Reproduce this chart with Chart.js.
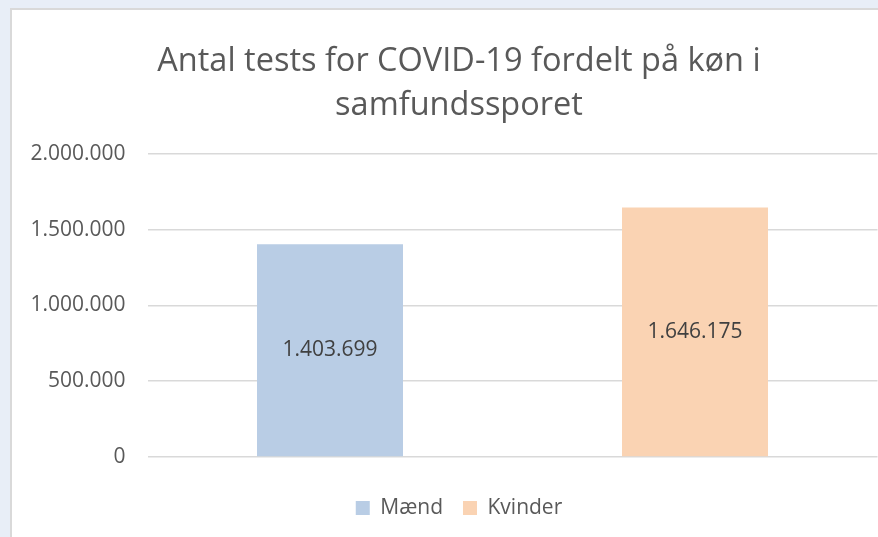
<!DOCTYPE html>
<html>
<head>
<meta charset="utf-8">
<script src="https://cdn.jsdelivr.net/npm/chart.js@4.4.1/dist/chart.umd.min.js"></script>
<style>
  html, body { margin: 0; padding: 0; }
  body { width: 878px; height: 537px; overflow: hidden; background: #e8eef7; position: relative; }
  #panel { position: absolute; left: 10px; top: 8px; width: 940px; height: 560px; background: #fff; border: 2px solid #d9d9d9; }
  #wrap { position: absolute; left: 0; top: 0; width: 894px; height: 527px; }
</style>
</head>
<body>
<div id="panel"><div id="wrap"><canvas id="myChart"></canvas></div></div>
<script>
var categories = ['Mænd', 'Kvinder'];
var maendValues = [1403699, null];
var kvinderValues = [null, 1646175];
var yTicks = [0, 500000, 1000000, 1500000, 2000000];

var textColor = '#595959';
var fontName = "'Open Sans', 'Noto Sans', sans-serif";

function fmt(n) {
  return String(n).replace(/\B(?=(\d{3})+(?!\d))/g, '.');
}

// draws the value in the middle of each bar
const barLabels = {
  id: 'barLabels',
  afterDatasetsDraw(chart) {
    let ctx = chart.ctx;
    ctx.save();
    ctx.fillStyle = '#404040';
    ctx.font = '21px ' + fontName;
    ctx.textAlign = 'center';
    ctx.textBaseline = 'middle';
    chart.data.datasets.forEach((ds, i) => {
      chart.getDatasetMeta(i).data.forEach((bar, j) => {
        let v = ds.data[j];
        if (v == null) return;
        ctx.fillText(fmt(v), bar.x, (bar.y + bar.base) / 2);
      });
    });
    ctx.restore();
  }
};

var data = {
  labels: categories,
  datasets: [{
    label: 'Mænd',
    data: maendValues,
    backgroundColor: '#b9cde5',
    grouped: false,
    barPercentage: 0.4,
    categoryPercentage: 1.0
  }, {
    label: 'Kvinder',
    data: kvinderValues,
    backgroundColor: '#fad3b3',
    grouped: false,
    barPercentage: 0.4,
    categoryPercentage: 1.0
  }]
};

var config = {
  type: 'bar',
  data: data,
  plugins: [barLabels],
  options: {
    responsive: true,
    maintainAspectRatio: false,
    animation: false,
    layout: { padding: { top: 30.5, bottom: 8.5, left: 0, right: 0 } },
    plugins: {
      title: {
        display: true,
        text: ['Antal tests for COVID-19 fordelt på køn i', 'samfundssporet'],
        color: textColor,
        font: { family: fontName, size: 32.5, weight: 'normal', lineHeight: 1.33 },
        padding: { top: 0, bottom: 27 }
      },
      legend: {
        position: 'bottom',
        labels: {
          color: textColor,
          font: { family: fontName, size: 21 },
          boxWidth: 14,
          boxHeight: 14,
          padding: 20
        }
      },
      tooltip: { enabled: false }
    },
    scales: {
      x: {
        display: true,
        grid: { display: false },
        border: { display: false },
        ticks: { display: false },
        afterFit: (s) => { s.height = 20.5; }
      },
      y: {
        min: 0,
        max: 2000000,
        afterBuildTicks: (s) => { s.ticks = yTicks.map(v => ({ value: v })); },
        afterFit: (s) => { s.width = 135.5; },
        border: { display: false },
        grid: { color: '#d9d9d9', lineWidth: 1.5, drawTicks: false },
        ticks: {
          color: textColor,
          font: { family: fontName, size: 21 },
          padding: 22,
          callback: (v) => fmt(v)
        }
      },
      y2: {
        position: 'right',
        display: true,
        grid: { display: false },
        border: { display: false },
        ticks: { display: false },
        afterFit: (s) => { s.width = 28.5; }
      }
    }
  }
};

var myChart = new Chart(document.getElementById('myChart'), config);
</script>
</body>
</html>
